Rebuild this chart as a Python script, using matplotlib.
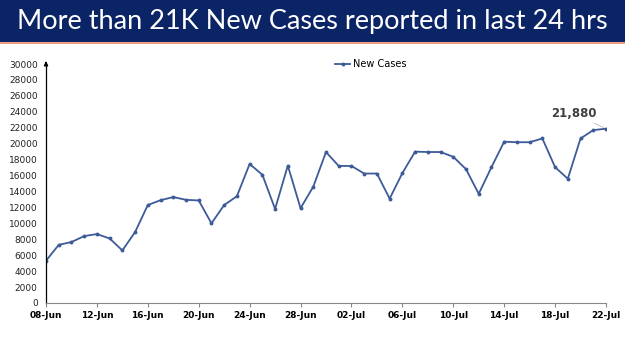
import matplotlib
matplotlib.use("Agg")
import matplotlib.pyplot as plt
import matplotlib.dates as mdates
import pandas as pd

dates = pd.date_range("2020-06-08", "2020-07-22", freq="D")
new_cases = [
    5300, 7300, 7650, 8400, 8650, 8100, 6600, 8900, 12300, 12900,
    13300, 12950, 12870, 10000, 12300, 13400, 17450, 16100, 11800, 17250,
    11900, 14600, 18950, 17200, 17200, 16250, 16250, 13100, 16300, 19000,
    18950, 18950, 18350, 16800, 13700, 17050, 20250, 20180, 20180, 20650,
    17050, 15600, 20650, 21700, 21880,
]
title = "More than 21K New Cases reported in last 24 hrs"
last_label = "21,880"

fig = plt.figure(figsize=(6.25, 3.51), dpi=100)

# title banner
ban = fig.add_axes([0, 1 - 42 / 351, 1, 42 / 351])
ban.set_xlim(0, 1)
ban.set_ylim(0, 1)
ban.axis("off")
ban.add_patch(plt.Rectangle((0, 0), 1, 1, color="#0b2466"))
ban.text(0.5, 0.5, title, color="white", fontsize=19.5, family="Lato",
         ha="center", va="center")
fig.add_artist(plt.Line2D([0, 1], [1 - 43 / 351] * 2, color="#e8a080", lw=1.5))

ax = fig.add_axes([46 / 625, 1 - 303 / 351, 560 / 625, 239 / 351])
line_col = "#3d5a99"
ax.plot(dates, new_cases, color=line_col, lw=1.3, marker="o", ms=1.8,
        label="New Cases")
ax.set_xlim(dates[0], dates[-1])
ax.set_ylim(0, 30000)
ax.set_yticks(range(0, 30001, 2000))
ax.set_xticks(dates[::4])
ax.xaxis.set_major_formatter(mdates.DateFormatter("%d-%b"))
ax.tick_params(axis="x", labelsize=6.5, length=3, color="#888888", pad=3)
ax.tick_params(axis="y", labelsize=6.5, length=0, pad=6, labelcolor="#222222")
for lab in ax.get_xticklabels():
    lab.set_fontweight("bold")
for s in ["top", "right"]:
    ax.spines[s].set_visible(False)
ax.spines["bottom"].set_color("#888888")
ax.spines["left"].set_color("black")
ax.spines["left"].set_linewidth(0.9)
ax.annotate("", xy=(0, 1.012), xytext=(0, 0.99), xycoords="axes fraction",
            arrowprops=dict(arrowstyle="-|>", color="black", lw=0.9,
                            mutation_scale=6))

ax.annotate(last_label, xy=(dates[-1], new_cases[-1]),
            xytext=(-7, 11), textcoords="offset points", ha="right",
            va="center", fontsize=8.5, fontweight="bold", color="#404040",
            arrowprops=dict(arrowstyle="-", color="#bbbbbb", lw=0.6,
                            shrinkA=1, shrinkB=2))

ax.legend(loc="center", bbox_to_anchor=(0.58, 1.0), frameon=False,
          fontsize=7, handlelength=1.6, handletextpad=0.3)

fig.savefig("out.png", dpi=100)
